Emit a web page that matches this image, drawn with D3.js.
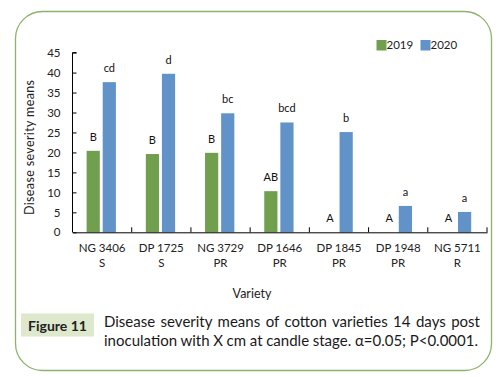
<!DOCTYPE html>
<html><head><meta charset="utf-8">
<script src="https://cdn.jsdelivr.net/npm/d3@7"></script>
<style>body{margin:0;background:#fff}svg{display:block}</style>
</head><body>
<script>
const categories = ["NG 3406|S","DP 1725|S","NG 3729|PR","DP 1646|PR","DP 1845|PR","DP 1948|PR","NG 5711|R"];
const v2019 = [20.4, 19.6, 19.9, 10.3, 0, 0, 0];
const v2020 = [37.6, 39.7, 29.8, 27.5, 25.1, 6.6, 5.1];
const lab2019 = ["B","B","B","AB","A","A","A"];
const lab2020 = ["cd","d","bc","bcd","b","a","a"];
const yTicks = [0,5,10,15,20,25,30,35,40,45];
const seriesNames = ["2019","2020"];

const W=503,H=377;
const font="Lato, 'Open Sans', sans-serif";
const svg=d3.select("body").append("svg").attr("width",W).attr("height",H);
svg.append("rect").attr("x",15.5).attr("y",11.5).attr("width",476).attr("height",359)
  .attr("rx",27).attr("ry",27).attr("fill","#fff").attr("stroke","#8DB36B").attr("stroke-width",1.3);

const x=d3.scaleBand().domain(categories).range([72.5,487]);
const y=d3.scaleLinear().domain([0,45]).range([232.3,52.6]);
const colors=["#70A04E","#6193C9"];

const g=svg.append("g");
categories.forEach((c,i)=>{
  const cx=x(c)+x.bandwidth()/2;
  const vals=[v2019[i],v2020[i]];
  const labs=[lab2019[i],lab2020[i]];
  const offs=[-15.5,0.6];
  vals.forEach((v,k)=>{
    if(v>0) g.append("rect").attr("x",cx+offs[k]).attr("y",y(v)).attr("width",13.2)
      .attr("height",y(0)-y(v)).attr("fill",colors[k]);
    g.append("text").attr("x",cx+offs[k]+6.6).attr("y",y(v)-10).attr("text-anchor","middle")
      .attr("font-family",font).attr("font-size",11).attr("fill","#111").text(labs[k]);
  });
});
const ya=svg.append("g").attr("transform","translate(72.5,0)")
  .call(d3.axisRight(y).tickValues(yTicks).tickSize(4).tickFormat(d3.format("d")));
ya.select(".domain").attr("d",`M4,${y(45)}H0V${y(0)}`).attr("stroke","#000");
ya.selectAll(".tick line").attr("stroke","#000");
ya.selectAll(".tick text").attr("x",-12).attr("text-anchor","end").attr("font-family",font)
  .attr("font-size",11.5).attr("fill","#222");
const xa=svg.append("g").attr("transform",`translate(0,${y(0)})`)
  .call(d3.axisBottom(x).tickSize(0).tickFormat(""));
xa.select(".domain").attr("stroke","#000");
const bounds=[...categories.map(c=>x(c)),487];
bounds.slice(1).forEach(b=>xa.append("line").attr("x1",b).attr("x2",b).attr("y1",0).attr("y2",-5).attr("stroke","#000"));
categories.forEach(c=>{
  const cx=x(c)+x.bandwidth()/2;
  const parts=c.split("|");
  parts.forEach((p,j)=>svg.append("text").attr("x",cx).attr("y",251.5+j*15.5).attr("text-anchor","middle")
    .attr("font-family",font).attr("font-size",11.5).attr("fill","#222").text(p));
});
svg.append("text").attr("x",252).attr("y",297.5).attr("text-anchor","middle").attr("font-family",font)
  .attr("font-size",12.5).attr("fill","#222").text("Variety");
svg.append("text").attr("transform","translate(33.5,147.5) rotate(-90)").attr("text-anchor","middle")
  .attr("font-family",font).attr("font-size",12.5).attr("fill","#222")
  .attr("textLength",135).attr("lengthAdjust","spacing").text("Disease severity means");
const lx=[376.5,420.5];
seriesNames.forEach((s,k)=>{
  svg.append("rect").attr("x",lx[k]).attr("y",40).attr("width",10).attr("height",10.5).attr("fill",colors[k]);
  svg.append("text").attr("x",lx[k]+10).attr("y",48.5).attr("font-family",font).attr("font-size",11.5)
    .attr("fill","#222").text(s);
});
svg.append("rect").attr("x",21).attr("y",313.5).attr("width",73).attr("height",23).attr("fill","#DDE8CD");
svg.append("text").attr("x",57.5).attr("y",330.5).attr("text-anchor","middle").attr("font-family",font)
  .attr("font-weight","bold").attr("font-size",14).attr("fill","#222").text("Figure 11");
const lines=[["Disease severity means of cotton varieties 14 days post",327,480],
             ["inoculation with X cm at candle stage. α=0.05; P<0.0001.",345.5,478]];
lines.forEach(([t,yy,right])=>{
  const tx=svg.append("text").attr("x",104).attr("y",yy).attr("font-family",font).attr("font-size",15)
    .attr("fill","#1a1a1a").text(t);
  const len=tx.node().getComputedTextLength();
  const spaces=(t.match(/ /g)||[]).length;
  const ws=((right-104)-len)/spaces;
  tx.attr("word-spacing",ws);
});
</script>
</body></html>
